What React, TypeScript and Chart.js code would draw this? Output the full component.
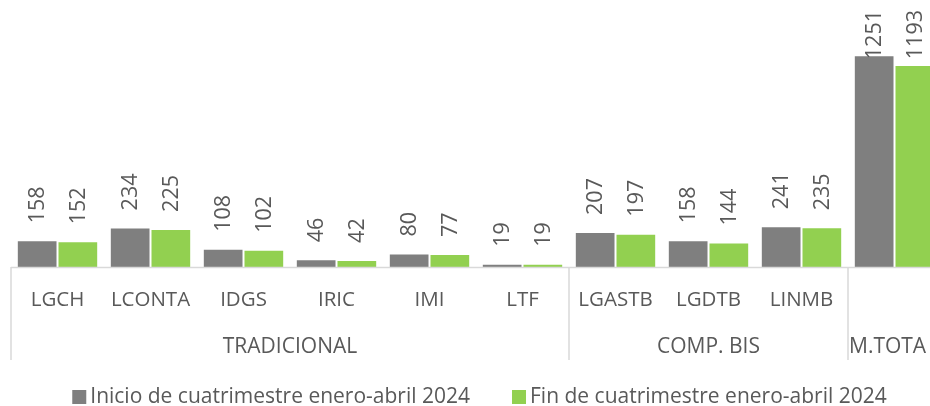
import { useEffect, useRef } from 'react';
import { Chart, registerables } from 'chart.js';

Chart.register(...registerables);

const categories = ['LGCH', 'LCONTA', 'IDGS', 'IRIC', 'IMI', 'LTF', 'LGASTB', 'LGDTB', 'LINMB', ''];
const groupLabels = ['TRADICIONAL', 'COMP. BIS', 'M.TOTA'];
const groupSizes = [6, 3, 1];
const seriesNames = ['Inicio de cuatrimestre enero-abril 2024', 'Fin de cuatrimestre enero-abril 2024'];
const inicio = [158, 234, 108, 46, 80, 19, 207, 158, 241, 1251];
const fin = [152, 225, 102, 42, 77, 19, 197, 144, 235, 1193];

const GRAY = '#7f7f7f';
const GREEN = '#92d050';
const TEXT = '#595959';
const LINE = '#d9d9d9';
const FONT = '"Open Sans", "Noto Sans", sans-serif';

const overlay = {
  id: 'overlay',
  afterDatasetsDraw(chart: any) {
    const ctx = chart.ctx;
    ctx.save();
    ctx.font = `21.5px ${FONT}`;
    ctx.fillStyle = TEXT;
    ctx.textAlign = 'left';
    ctx.textBaseline = 'middle';
    chart.data.datasets.forEach((ds: any, di: number) => {
      const meta = chart.getDatasetMeta(di);
      meta.data.forEach((bar: any, i: number) => {
        const txt = String(ds.data[i]);
        const w = ctx.measureText(txt).width;
        const y = Math.max(bar.y - 17, 10 + w);
        ctx.save();
        ctx.translate(bar.x + 1, y);
        ctx.rotate(-Math.PI / 2);
        ctx.fillText(txt, 0, 0);
        ctx.restore();
      });
    });
    ctx.restore();
  },
  afterDraw(chart: any) {
    const ctx = chart.ctx;
    const area = chart.chartArea;
    const xs = chart.scales.x;
    const catW = xs.getPixelForValue(1) - xs.getPixelForValue(0);
    const left = xs.getPixelForValue(0) - catW / 2;
    const bottom = area.bottom;
    ctx.save();
    // axis line
    ctx.strokeStyle = LINE;
    ctx.lineWidth = 1.5;
    ctx.beginPath();
    ctx.moveTo(left, bottom + 0.5);
    ctx.lineTo(area.right, bottom + 0.5);
    ctx.stroke();
    // group separators
    let idx = 0;
    const bounds: number[] = [0];
    groupSizes.forEach((n) => {
      idx += n;
      bounds.push(idx);
    });
    bounds.forEach((b) => {
      const x = left + b * catW;
      ctx.beginPath();
      ctx.moveTo(x, bottom);
      ctx.lineTo(x, bottom + 93);
      ctx.stroke();
    });
    // category labels
    ctx.fillStyle = TEXT;
    ctx.font = `20.5px ${FONT}`;
    ctx.textAlign = 'center';
    ctx.textBaseline = 'middle';
    categories.forEach((c, i) => {
      ctx.fillText(c, xs.getPixelForValue(i), bottom + 33);
    });
    // group labels
    ctx.font = `21px ${FONT}`;
    groupLabels.forEach((g, gi) => {
      const x0 = left + bounds[gi] * catW;
      const x1 = left + bounds[gi + 1] * catW;
      if (gi === groupLabels.length - 1) {
        ctx.textAlign = 'left';
        ctx.fillText(g, x0 + 1, bottom + 80);
      } else {
        ctx.textAlign = 'center';
        ctx.fillText(g, (x0 + x1) / 2, bottom + 80);
      }
    });
    // legend
    ctx.font = `21px ${FONT}`;
    ctx.textAlign = 'left';
    const box = 14;
    const gap = 4;
    const itemGap = 42;
    const widths = seriesNames.map((s) => ctx.measureText(s).width);
    const total = widths.reduce((a, w) => a + box + gap + w, 0) + itemGap;
    let x = 479.5 - total / 2;
    const ly = 397;
    chart.data.datasets.forEach((ds: any, di: number) => {
      ctx.fillStyle = ds.backgroundColor;
      ctx.fillRect(x, ly - box / 2, box, box);
      ctx.fillStyle = TEXT;
      ctx.fillText(ds.label, x + box + gap, ly);
      x += box + gap + widths[di] + itemGap;
    });
    ctx.restore();
  },
};

export default function App() {
  const ref = useRef<HTMLCanvasElement | null>(null);
  useEffect(() => {
    document.body.style.margin = '0';
    document.body.style.overflow = 'hidden';
    const chart = new Chart(ref.current!, {
      type: 'bar',
      data: {
        labels: categories,
        datasets: [
          { label: seriesNames[0], data: inicio, backgroundColor: GRAY, borderColor: '#ffffff', borderWidth: 1 },
          { label: seriesNames[1], data: fin, backgroundColor: GREEN, borderColor: '#ffffff', borderWidth: 1 },
        ],
      },
      options: {
        responsive: false,
        animation: false,
        layout: { padding: { left: 11, top: 30, right: 0, bottom: 0 } },
        datasets: { bar: { categoryPercentage: 0.875, barPercentage: 1 } },
        plugins: { legend: { display: false }, tooltip: { enabled: false } },
        scales: {
          x: {
            display: true,
            grid: { display: false },
            border: { display: false },
            ticks: { display: false },
            afterFit: (s: any) => {
              s.height = 139;
            },
          },
          y: { display: false, min: 0, max: 1400 },
        },
      },
      plugins: [overlay],
    });
    return () => chart.destroy();
  }, []);
  return (
    <div style={{ width: 930, height: 406, overflow: 'hidden', position: 'relative' }}>
      <canvas ref={ref} width={941} height={406} style={{ display: 'block' }} />
    </div>
  );
}
